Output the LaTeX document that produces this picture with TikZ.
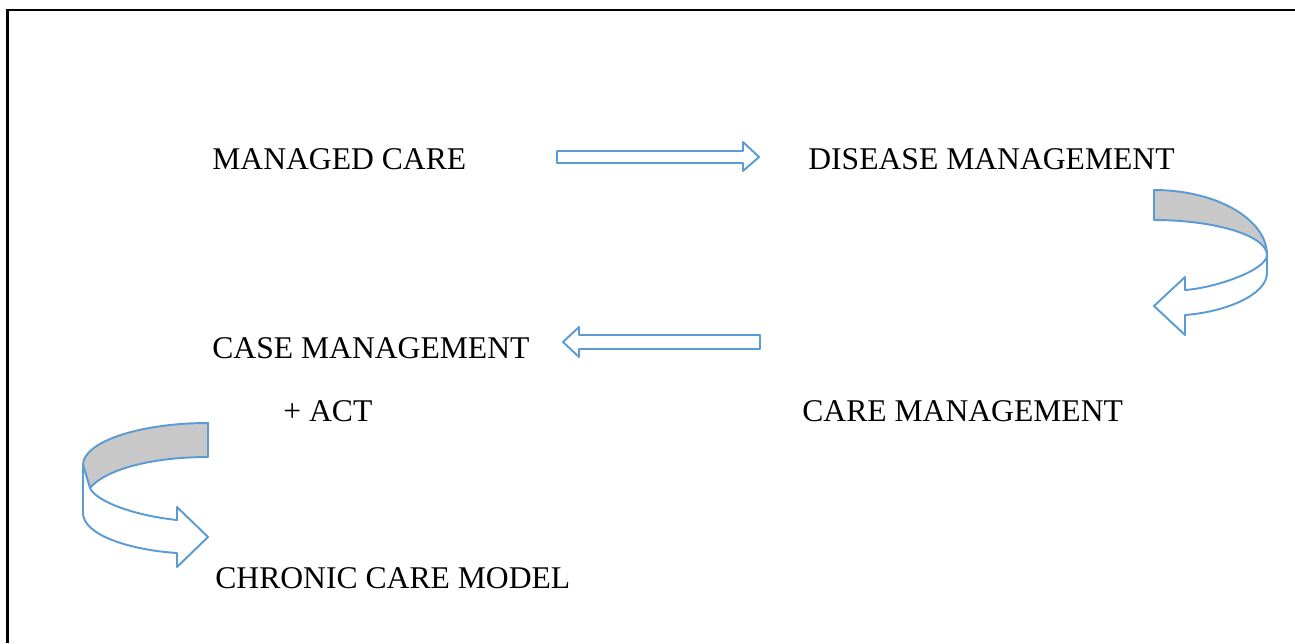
\documentclass[tikz,border=0pt]{standalone}
\usepackage{fontspec}
\setmainfont{Liberation Serif}
\definecolor{arrowblue}{RGB}{91,155,213}
\definecolor{bandgray}{RGB}{200,200,200}

\begin{document}
\begin{tikzpicture}[x=0.02cm,y=-0.02cm,
  lbl/.style={anchor=base west,inner sep=0pt,font=\fontsize{18}{22}\selectfont},
  blockarrow/.style={draw=arrowblue,line width=1.1pt,line join=round,fill=white},
  backband/.style={draw=arrowblue,line width=1.1pt,line join=round,fill=bandgray}]
\useasboundingbox (0,0) rectangle (1295,643);
\draw[line width=1.7pt] (7.7,643) -- (7.7,10) -- (1295,10);

\node[lbl] (managed) at (212,169) {MANAGED CARE};
\node[lbl] (disease) at (808,169) {DISEASE MANAGEMENT};
\node[lbl] (casemgmt) at (212,358) {CASE MANAGEMENT};
\node[lbl] (act) at (283,421) {+ ACT};
\node[lbl] (caremgmt) at (802,421) {CARE MANAGEMENT};
\node[lbl] (chronic) at (215,588) {CHRONIC CARE MODEL};

% straight arrows
\draw[blockarrow] (557,151) -- (743,151) -- (743,142) -- (759,157) -- (743,171) -- (743,163) -- (557,163) -- cycle;
\draw[blockarrow] (760,335) -- (579,335) -- (579,327) -- (563,342) -- (579,357) -- (579,349) -- (760,349) -- cycle;

% curved arrow, right side
\draw[backband] (1154,190) .. controls (1216,190) and (1267,219) .. (1267,255)
  .. controls (1267,236) and (1216,220) .. (1154,220) -- cycle;
\draw[blockarrow] (1267,255) .. controls (1267,270) and (1215,288) .. (1185,290)
  -- (1185,277) -- (1154,306) -- (1185,335) -- (1185,315)
  .. controls (1225,312) and (1267,295) .. (1267,273) -- cycle;

% curved arrow, left side
\draw[backband] (208,423) .. controls (139,423) and (83,442) .. (83,465)
  -- (90,488) .. controls (105,470) and (150,457) .. (208,457) -- cycle;
\draw[blockarrow] (83,465) -- (83,513) .. controls (83,535) and (130,550) .. (177,553)
  -- (177,567) -- (208,537) -- (177,507) -- (177,520)
  .. controls (130,515) and (95,500) .. (90,488) -- cycle;
\end{tikzpicture}
\end{document}
